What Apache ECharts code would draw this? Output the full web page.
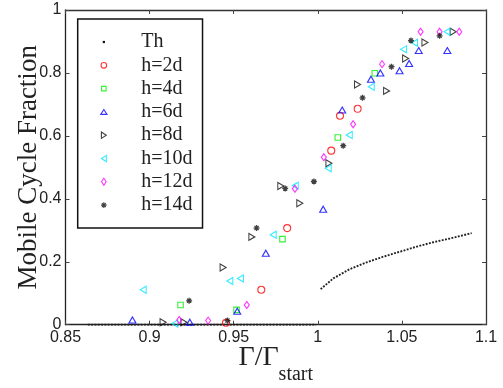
<!DOCTYPE html>
<html>
<head>
<meta charset="utf-8">
<script src="https://cdn.jsdelivr.net/npm/echarts@6/dist/echarts.min.js"></script>
<style>html,body{margin:0;padding:0;background:#fff}#c{width:503px;height:388px}</style>
</head>
<body>
<div id="c"></div>
<script>
// ---- data ----
const xTicks = [0.85, 0.9, 0.95, 1, 1.05, 1.1];
const yTicks = [0, 0.2, 0.4, 0.6, 0.8, 1];

const thX = [0.8633, 0.9990, null, 1.0017, 1.0092, 1.0191, 1.0290, 1.0389, 1.0488, 1.0588, 1.0686, 1.0786, 1.0915];
const thY = [0, 0, null, 0.113, 0.147, 0.177, 0.198, 0.216, 0.232, 0.248, 0.262, 0.274, 0.291];

const h2dX = [0.9454, 0.9664, 0.9818, 1.0080, 1.0132, 1.0237];
const h2dY = [0.006, 0.111, 0.307, 0.553, 0.664, 0.686];

const h4dX = [0.9184, 0.9517, 0.9790, 1.0119, 1.0339];
const h4dY = [0.0625, 0.047, 0.272, 0.595, 0.799];

const h6dX = [0.8898, 0.9239, 0.9521, 0.9691, 1.0032, 1.0145, 1.0316, 1.0372, 1.0486, 1.0543, 1.0600, 1.0770];
const h6dY = [0.015, 0.008, 0.043, 0.227, 0.367, 0.682, 0.780, 0.800, 0.807, 0.830, 0.871, 0.871];

const h8dX = [0.9080, 0.9204, 0.9437, 0.9608, 0.9780, 0.9893, 1.0066, 1.0236, 1.0409, 1.0522, 1.0637, 1.0805];
const h8dY = [0.008, 0.008, 0.182, 0.279, 0.441, 0.386, 0.513, 0.763, 0.743, 0.846, 0.897, 0.931];

const h10dX = [0.8962, 0.9150, 0.9477, 0.9540, 0.9735, 0.9866, 1.0062, 1.0187, 1.0318, 1.0510, 1.0575, 1.0768];
const h10dY = [0.111, 0.004, 0.139, 0.147, 0.286, 0.442, 0.497, 0.603, 0.756, 0.875, 0.896, 0.931];

const h12dX = [0.9176, 0.9348, 0.9578, 0.9864, 1.0036, 1.0210, 1.0382, 1.0611, 1.0724, 1.0841];
const h12dY = [0.015, 0.013, 0.0625, 0.432, 0.532, 0.637, 0.828, 0.931, 0.931, 0.931];

const h14dX = [0.9235, 0.9463, 0.9636, 0.9806, 0.9977, 1.0151, 1.0266, 1.0438, 1.0554, 1.0724];
const h14dY = [0.076, 0.013, 0.307, 0.433, 0.455, 0.569, 0.721, 0.820, 0.903, 0.918];

const seriesNames = ['Th', 'h=2d', 'h=4d', 'h=6d', 'h=8d', 'h=10d', 'h=12d', 'h=14d'];
const seriesColors = ['#111111', '#ff0000', '#00ee00', '#0000ff', '#111111', '#00e5ff', '#ff00ff', '#111111'];

// ---- build ----
function pairs(xs, ys) {
  return xs.map((x, i) => (x === null ? ['-', '-'] : [x, ys[i]]));
}
const serif = 'Liberation Serif';
const sans = 'Liberation Sans';
const asterisk = 'path://M0,5L10,5M5,0L5,10M1.6,1.6L8.4,8.4M1.6,8.4L8.4,1.6';
// legend icons (padded with bare move-to points so they keep a small size)
const icons = [
  'path://M0,0M10,10M3.4,3.4L6.6,3.4L6.6,6.6L3.4,6.6Z',
  'path://M0,0M10,10M5,1A4,4 0 1,1 4.99,1Z',
  'path://M0,0M10,10M1.8,1.8L8.2,1.8L8.2,8.2L1.8,8.2Z',
  'path://M0,0M10,10M5,1.5L9.5,8.5L0.5,8.5Z',
  'path://M0,0M10,10M1.5,0.5L8.5,5L1.5,9.5Z',
  'path://M0,0M10,10M8.5,0.5L1.5,5L8.5,9.5Z',
  'path://M0,0M10,10M5,0L8.3,5L5,10L1.7,5Z',
  'path://M0,0M10,10M1,5L9,5M5,1L5,9M2.2,2.2L7.8,7.8M2.2,7.8L7.8,2.2'
];

function hollow(i, xs, ys, symbol, size, rot) {
  return {
    name: seriesNames[i], type: 'scatter', xAxisIndex: 0, yAxisIndex: 0,
    data: pairs(xs, ys), symbol: symbol, symbolSize: size, symbolRotate: rot || 0,
    itemStyle: { color: 'rgba(0,0,0,0)', borderColor: seriesColors[i], borderWidth: 1.1 },
    emphasis: { disabled: true }, z: 3
  };
}

const axisLineStyle = { color: '#222', width: 1.3 };
const tickStyle = { inside: true, length: 4, lineStyle: { color: '#444', width: 1 } };

const chart = echarts.init(document.getElementById('c'), null, { renderer: 'canvas' });
chart.setOption({
  animation: false,
  backgroundColor: '#fff',
  grid: { left: 65.5, right: 17, top: 10, bottom: 63.3, containLabel: false, outerBoundsMode: 'none' },
  xAxis: [{
    type: 'value', min: xTicks[0], max: xTicks[xTicks.length - 1], interval: 0.05, position: 'bottom',
    axisLine: { onZero: false, lineStyle: axisLineStyle },
    axisTick: tickStyle,
    splitLine: { show: false },
    axisLabel: { fontFamily: sans, fontSize: 16, color: '#222', margin: 5 },
    name: '{a|Γ/Γ}{b|start}', nameLocation: 'middle', nameGap: 18.5, nameMoveOverlap: false,
    nameTextStyle: {
      rich: {
        a: { fontFamily: serif, fontSize: 28, color: '#222', lineHeight: 10, verticalAlign: 'top' },
        b: { fontFamily: serif, fontSize: 20, color: '#222', lineHeight: 42, verticalAlign: 'bottom' }
      }
    }
  }, {
    type: 'value', min: xTicks[0], max: xTicks[xTicks.length - 1], interval: 0.05, position: 'top',
    axisLine: { onZero: false, lineStyle: { color: '#333', width: 1.3 } },
    axisTick: tickStyle, axisLabel: { show: false }, splitLine: { show: false }
  }],
  yAxis: [{
    type: 'value', min: yTicks[0], max: yTicks[yTicks.length - 1], interval: 0.2, position: 'left',
    axisLine: { show: true, onZero: false, lineStyle: axisLineStyle },
    axisTick: tickStyle,
    splitLine: { show: false },
    axisLabel: { fontFamily: sans, fontSize: 16, color: '#222', margin: 4 },
    name: 'Mobile Cycle Fraction', nameLocation: 'middle', nameGap: 23, nameMoveOverlap: false,
    nameTextStyle: { fontFamily: serif, fontSize: 27, color: '#222' }
  }, {
    type: 'value', min: yTicks[0], max: yTicks[yTicks.length - 1], interval: 0.2, position: 'right',
    axisLine: { show: true, onZero: false, lineStyle: { color: '#333', width: 1.3 } },
    axisTick: tickStyle, axisLabel: { show: false }, splitLine: { show: false }
  }],
  legend: {
    orient: 'vertical', left: 77.7, top: 19,
    padding: [13, 10, 13, 22.1],
    itemWidth: 7, itemHeight: 7, itemGap: 3.3,
    borderColor: '#111', borderWidth: 1.5, backgroundColor: '#fff',
    selectedMode: false,
    textStyle: { fontFamily: serif, fontSize: 20, color: '#222', lineHeight: 20, padding: [0, 0, 0, 28.9] },
    data: seriesNames.map((n, i) => (i === 0
      ? { name: n, icon: icons[i], itemStyle: { color: '#111', borderWidth: 0 } }
      : { name: n, icon: icons[i], symbolRotate: 0,
          itemStyle: { color: 'rgba(0,0,0,0)', borderColor: seriesColors[i], borderWidth: 1.1 } }))
  },
  series: [
    {
      name: seriesNames[0], type: 'line', xAxisIndex: 0, yAxisIndex: 0,
      data: pairs(thX, thY), showSymbol: false, symbol: 'none', connectNulls: false,
      itemStyle: { color: seriesColors[0] },
      lineStyle: { color: '#222', width: 1.9, type: [1.9, 1.4], cap: 'butt' },
      emphasis: { disabled: true }, z: 2
    },
    hollow(1, h2dX, h2dY, 'circle', 7),
    hollow(2, h4dX, h4dY, 'rect', 5.5),
    hollow(3, h6dX, h6dY, 'triangle', [7, 6]),
    hollow(4, h8dX, h8dY, 'triangle', [7, 6], -90),
    hollow(5, h10dX, h10dY, 'triangle', [7, 6], 90),
    hollow(6, h12dX, h12dY, 'diamond', [5, 7]),
    {
      name: seriesNames[7], type: 'scatter', xAxisIndex: 0, yAxisIndex: 0,
      data: pairs(h14dX, h14dY), symbol: asterisk, symbolSize: 6,
      itemStyle: { color: 'rgba(0,0,0,0)', borderColor: seriesColors[7], borderWidth: 1.3 },
      emphasis: { disabled: true }, z: 3
    }
  ]
});
</script>
</body>
</html>
